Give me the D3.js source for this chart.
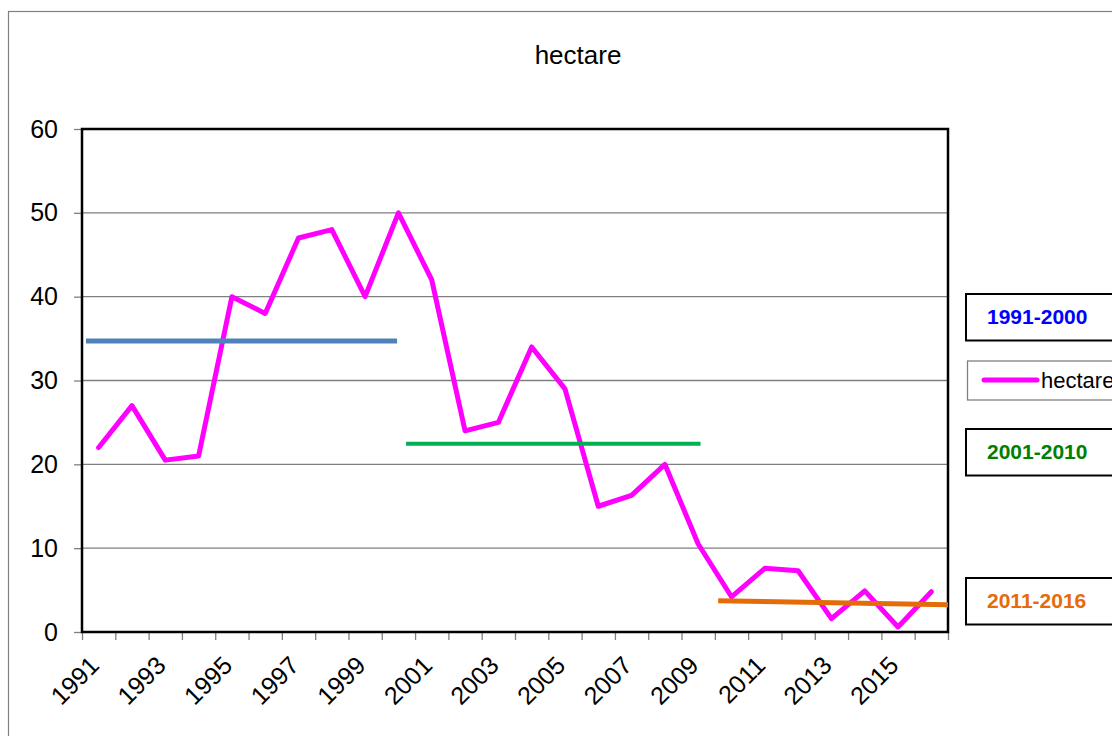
<!DOCTYPE html>
<html>
<head>
<meta charset="utf-8">
<script src="https://cdn.jsdelivr.net/npm/d3@7"></script>
<style>
  html, body { margin: 0; padding: 0; background: #fff; }
  svg { display: block; font-family: "Liberation Sans", Arial, sans-serif; }
</style>
</head>
<body>
<svg id="chart" width="1112" height="736"></svg>
<script>
// ---- data ----
const years = [1991,1992,1993,1994,1995,1996,1997,1998,1999,2000,2001,2002,2003,2004,2005,2006,2007,2008,2009,2010,2011,2012,2013,2014,2015,2016];
const hectare = [22,27,20.5,21,40,38,47,48,40,50,42,24,25,34,29,15,16.3,20,10.5,4.2,7.6,7.3,1.6,4.9,0.6,4.8];
const yTicks = [0,10,20,30,40,50,60];
const xTickLabels = [1991,1993,1995,1997,1999,2001,2003,2005,2007,2009,2011,2013,2015];
const periodNames = ["1991-2000","2001-2010","2011-2016"];
const periodStart = [1990.62, 2000.23, 2009.6];
const periodEnd = [1999.96, 2009.07, 2016.5];
const periodValueStart = [34.7, 22.45, 3.73];
const periodValueEnd = [34.7, 22.45, 3.25];
const periodLineColors = ["#4F81BD", "#00B050", "#E36C09"];
const periodTextColors = ["#0000FF", "#008000", "#E46C0A"];

// ---- layout ----
const svg = d3.select("#chart");
const L = 82, R = 948, T = 129, B = 632;
const x = d3.scaleLinear().domain([years[0] - 0.5, years[years.length - 1] + 0.5]).range([L, R]);
const y = d3.scaleLinear().domain([0, 60]).range([B, T]);

// outer frame
svg.append("rect").attr("x", 8.5).attr("y", 11.5).attr("width", 1200).attr("height", 800)
  .attr("fill", "none").attr("stroke", "#808080").attr("stroke-width", 1.2);

// title
svg.append("text").attr("x", 578).attr("y", 64).attr("text-anchor", "middle")
  .attr("font-size", 26).attr("fill", "#000").text("hectare");

// gridlines
svg.append("g").selectAll("line").data(yTicks.filter(d => d > 0 && d < 60)).join("line")
  .attr("x1", L).attr("x2", R).attr("y1", d => y(d)).attr("y2", d => y(d))
  .attr("stroke", "#7f7f7f").attr("stroke-width", 1.3);

// y axis
const yAxis = d3.axisLeft(y).tickValues(yTicks).tickSize(8).tickPadding(16).tickFormat(d3.format("d"));
const gy = svg.append("g").attr("transform", `translate(${L},0)`).call(yAxis);
gy.select(".domain").remove();
gy.selectAll(".tick line").attr("stroke", "#808080").attr("stroke-width", 1.3);
gy.selectAll(".tick text").attr("font-size", 25).attr("font-family", "Liberation Sans, Arial, sans-serif").attr("fill", "#000");

// x axis ticks at band boundaries
const boundaries = d3.range(years.length + 1).map(i => years[0] - 0.5 + i);
const xAxis = d3.axisBottom(x).tickValues(boundaries).tickSize(8).tickFormat("");
const gx = svg.append("g").attr("transform", `translate(0,${B})`).call(xAxis);
gx.select(".domain").remove();
gx.selectAll(".tick line").attr("stroke", "#808080").attr("stroke-width", 1.3);

// x labels
svg.append("g").selectAll("text").data(xTickLabels).join("text")
  .attr("transform", d => `translate(${x(d) + 2},667) rotate(-45)`)
  .attr("text-anchor", "end").attr("font-size", 25).attr("fill", "#000")
  .text(d => d);

// plot border
svg.append("rect").attr("x", L).attr("y", T).attr("width", R - L).attr("height", B - T)
  .attr("fill", "none").attr("stroke", "#000").attr("stroke-width", 2.5);

// main line
const line = d3.line().x((d, i) => x(years[i])).y(d => y(d)).curve(d3.curveLinear);
svg.append("path").datum(hectare).attr("d", line)
  .attr("fill", "none").attr("stroke", "#FF00FF").attr("stroke-width", 5)
  .attr("stroke-linejoin", "round").attr("stroke-linecap", "round");

// period lines
svg.append("g").selectAll("line").data(periodNames).join("line")
  .attr("x1", (d, i) => x(periodStart[i])).attr("x2", (d, i) => x(periodEnd[i]))
  .attr("y1", (d, i) => y(periodValueStart[i])).attr("y2", (d, i) => y(periodValueEnd[i]))
  .attr("stroke", (d, i) => periodLineColors[i])
  .attr("stroke-width", (d, i) => i === 1 ? 4 : 5);

// legend boxes for periods
const boxY = [294, 429, 578];
const boxG = svg.append("g");
periodNames.forEach((name, i) => {
  boxG.append("rect").attr("x", 966).attr("y", boxY[i]).attr("width", 200).attr("height", 46.5)
    .attr("fill", "#fff").attr("stroke", "#000").attr("stroke-width", 2);
  boxG.append("text").attr("x", 987).attr("y", boxY[i] + 30).attr("font-size", 21)
    .attr("font-weight", "bold").attr("fill", periodTextColors[i]).text(name);
});

// series legend
svg.append("rect").attr("x", 967.5).attr("y", 361).attr("width", 200).attr("height", 39)
  .attr("fill", "#fff").attr("stroke", "#808080").attr("stroke-width", 1.3);
svg.append("line").attr("x1", 984).attr("x2", 1037).attr("y1", 380).attr("y2", 380)
  .attr("stroke", "#FF00FF").attr("stroke-width", 5).attr("stroke-linecap", "round");
svg.append("text").attr("x", 1041).attr("y", 388).attr("font-size", 22).attr("fill", "#000").text("hectare");
</script>
</body>
</html>
